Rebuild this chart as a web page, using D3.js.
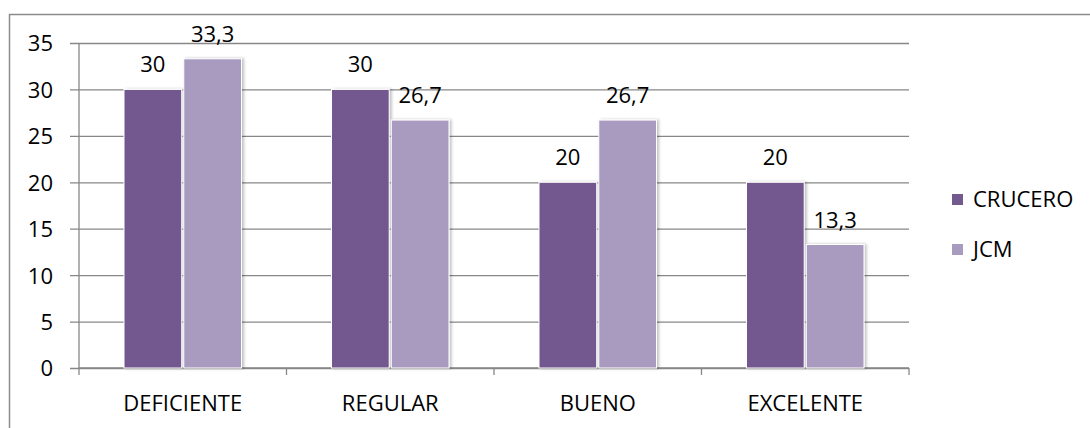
<!DOCTYPE html>
<html>
<head>
<meta charset="utf-8">
<script src="https://cdn.jsdelivr.net/npm/d3@7"></script>
<style>
  html, body { margin: 0; padding: 0; background: #fff; }
  svg { display: block; font-family: "Open Sans", "Liberation Sans", sans-serif; }
</style>
</head>
<body>
<svg id="chart" width="1090" height="428"></svg>
<script>
// Survey results by rating category, in percent
const categories = ["DEFICIENTE", "REGULAR", "BUENO", "EXCELENTE"];
const seriesNames = ["CRUCERO", "JCM"];
const cruceroValues = [30, 30, 20, 20];
const jcmValues = [33.3, 26.7, 26.7, 13.3];
const yTicks = [0, 5, 10, 15, 20, 25, 30, 35];
const seriesColors = ["#72598e", "#a99ac0"];

const rows = categories.map((c, i) => ({
  category: c,
  values: [
    { series: seriesNames[0], value: cruceroValues[i] },
    { series: seriesNames[1], value: jcmValues[i] }
  ]
}));

const svg = d3.select("#chart");
const gridColor = "#878787";
const fontSize = 22;

const plot = { left: 79, right: 909, top: 43, bottom: 368 };

const x = d3.scaleBand().domain(categories).range([plot.left, plot.right]).padding(0);
const groupInset = 45;
const x1 = d3.scaleBand().domain(seriesNames)
  .range([groupInset, x.bandwidth() - groupInset]).paddingInner(0.035);
const y = d3.scaleLinear().domain([0, 35]).range([plot.bottom, plot.top]);
const color = d3.scaleOrdinal().domain(seriesNames).range(seriesColors);

// soft shadow around the bars
const defs = svg.append("defs");
const f = defs.append("filter").attr("id", "barShadow")
  .attr("x", "-20%").attr("y", "-10%").attr("width", "140%").attr("height", "120%");
f.append("feGaussianBlur").attr("in", "SourceAlpha").attr("stdDeviation", 1.6).attr("result", "b");
f.append("feOffset").attr("in", "b").attr("dx", 1.5).attr("dy", 0).attr("result", "o");
f.append("feComponentTransfer").attr("in", "o").attr("result", "s")
  .append("feFuncA").attr("type", "linear").attr("slope", 0.25);
const m = f.append("feMerge");
m.append("feMergeNode").attr("in", "s");
m.append("feMergeNode").attr("in", "SourceGraphic");

// chart frame
svg.append("rect")
  .attr("x", 9.5).attr("y", 14.5).attr("width", 1200).attr("height", 600)
  .attr("fill", "none").attr("stroke", "#8c8c8c").attr("stroke-width", 1.5);

// horizontal gridlines and y axis
const yAxis = d3.axisLeft(y).tickValues(yTicks).tickSize(plot.right - plot.left + 9)
  .tickPadding(17).tickFormat(d3.format("d"));
const gy = svg.append("g").attr("transform", `translate(${plot.right},0)`).call(yAxis);
gy.select(".domain").remove();
gy.selectAll(".tick line").attr("stroke", gridColor).attr("stroke-width", 1.3);
gy.selectAll(".tick text").attr("fill", "#000").attr("font-size", fontSize)
  .attr("font-family", "'Open Sans', sans-serif").attr("dy", "0.36em");

svg.append("line")
  .attr("x1", plot.left).attr("x2", plot.left)
  .attr("y1", plot.top).attr("y2", plot.bottom)
  .attr("stroke", gridColor).attr("stroke-width", 1.3);

// category axis
const boundaries = categories.map(c => x(c)).concat([plot.right]);
svg.append("g").selectAll("line").data(boundaries).join("line")
  .attr("x1", d => d).attr("x2", d => d)
  .attr("y1", plot.bottom).attr("y2", plot.bottom + 7)
  .attr("stroke", gridColor).attr("stroke-width", 1.3);
svg.append("line")
  .attr("x1", plot.left).attr("x2", plot.right)
  .attr("y1", plot.bottom).attr("y2", plot.bottom)
  .attr("stroke", gridColor).attr("stroke-width", 1.3);
svg.append("g").selectAll("text").data(categories).join("text")
  .attr("x", d => x(d) + x.bandwidth() / 2)
  .attr("y", 411)
  .attr("text-anchor", "middle")
  .attr("font-size", fontSize)
  .attr("fill", "#000")
  .text(d => d);

// bars
const groups = svg.append("g").selectAll("g").data(rows).join("g")
  .attr("transform", d => `translate(${x(d.category)},0)`);

groups.selectAll("rect").data(d => d.values).join("rect")
  .attr("x", d => x1(d.series))
  .attr("width", x1.bandwidth())
  .attr("y", d => y(d.value))
  .attr("height", d => y(0) - y(d.value))
  .attr("fill", d => color(d.series))
  .attr("stroke", "#ffffff")
  .attr("stroke-width", 1)
  .attr("filter", "url(#barShadow)");

// value labels
const fmt = v => String(v).replace(".", ",");
groups.selectAll("text.val").data(d => d.values).join("text")
  .attr("class", "val")
  .attr("x", d => x1(d.series) + x1.bandwidth() / 2)
  .attr("y", d => y(d.value) - 17)
  .attr("text-anchor", "middle")
  .attr("font-size", fontSize)
  .attr("fill", "#000")
  .text(d => fmt(d.value));

// legend
const legend = svg.append("g").selectAll("g").data(seriesNames).join("g")
  .attr("transform", (d, i) => `translate(952,${194 + i * 50})`);
legend.append("rect").attr("width", 11).attr("height", 11)
  .attr("fill", d => color(d));
legend.append("text").attr("x", 21).attr("y", 13)
  .attr("font-size", fontSize).attr("fill", "#000")
  .text(d => d);
</script>
</body>
</html>
